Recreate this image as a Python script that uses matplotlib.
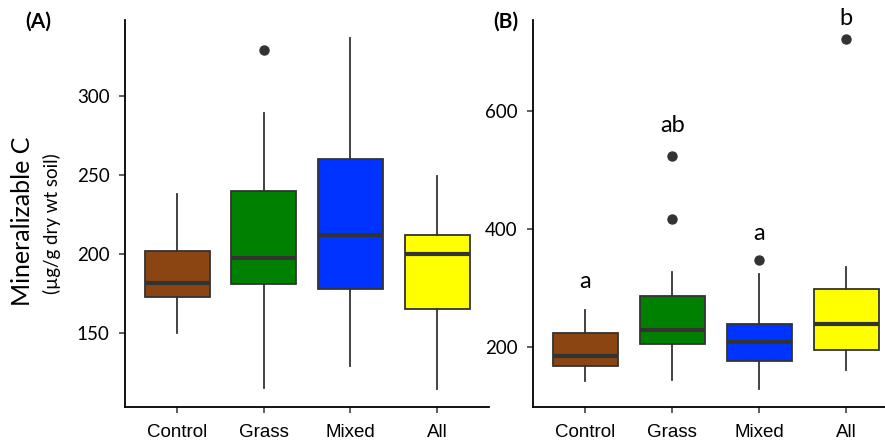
import matplotlib
matplotlib.use("Agg")
import matplotlib.pyplot as plt

plt.rcParams['font.family'] = ['Lato', 'DejaVu Sans']

groups = ["Control", "Grass", "Mixed", "All"]
colors = ["#8B4513", "#008000", "#0033FF", "#FFFF00"]

# panel A: whisker low, Q1, median, Q3, whisker high
a_low = [150.4, 115.1, 129.5, 114.5]
a_q1 = [173.0, 181.4, 178.2, 165.3]
a_med = [181.8, 197.3, 211.9, 200.2]
a_q3 = [202.3, 240.0, 260.5, 212.1]
a_high = [237.9, 289.1, 337.0, 249.4]
a_out = [[], [328.9], [], []]

# panel B
b_low = [141.6, 143.3, 127.5, 160.3]
b_q1 = [167.7, 204.0, 175.7, 194.4]
b_med = [184.7, 227.9, 208.5, 238.1]
b_q3 = [222.8, 286.8, 239.1, 298.2]
b_high = [262.5, 326.0, 323.7, 334.5]
b_out = [[], [524.6, 417.4], [348.0], [722.0]]
b_letters = ["a", "ab", "a", "b"]
b_letter_y = [310, 575, 392, 757]

W, H = 885, 444
fig = plt.figure(figsize=(W / 100, H / 100), dpi=100)
axA = fig.add_axes([125 / W, 37 / H, (489 - 125) / W, 387 / H])
axB = fig.add_axes([533 / W, 37 / H, (885 - 533) / W, 387 / H])


def draw(ax, low, q1, med, q3, high, out):
    stats = []
    for i in range(len(groups)):
        stats.append(dict(whislo=low[i], q1=q1[i], med=med[i], q3=q3[i],
                          whishi=high[i], fliers=out[i]))
    bp = ax.bxp(stats, positions=range(1, 5), widths=0.75, patch_artist=True,
                showcaps=False,
                boxprops=dict(edgecolor="#333333", linewidth=1.3),
                medianprops=dict(color="#333333", linewidth=3),
                whiskerprops=dict(color="#333333", linewidth=1.3),
                flierprops=dict(marker="o", markerfacecolor="#333333",
                                markeredgecolor="#333333", markersize=6.5))
    for patch, c in zip(bp["boxes"], colors):
        patch.set_facecolor(c)
    for s in ["top", "right"]:
        ax.spines[s].set_visible(False)
    for s in ["left", "bottom"]:
        ax.spines[s].set_linewidth(1.3)
    ax.set_xticks(range(1, 5))
    ax.set_xticklabels(groups, fontsize=13.5, family=["Liberation Sans"])
    ax.tick_params(axis="both", length=4, width=1.1, color="#333333",
                   labelcolor="black")
    ax.tick_params(axis="x", pad=8)
    ax.tick_params(axis="y", labelsize=13.5, pad=7)


draw(axA, a_low, a_q1, a_med, a_q3, a_high, a_out)
axA.set_xlim(0.4, 4.6)
axA.set_ylim(103.4, 348.1)
axA.set_yticks([150, 200, 250, 300])

draw(axB, b_low, b_q1, b_med, b_q3, b_high, b_out)
axB.set_xlim(0.4, 0.4 + (885 - 533) / 87)
axB.set_ylim(97.4, 755)
axB.set_yticks([200, 400, 600])
for i, t in enumerate(b_letters):
    axB.text(i + 1, b_letter_y[i], t, ha="center", va="center", fontsize=17,
             clip_on=False)

fig.text(22.7 / W, 1 - 221 / H, "Mineralizable C", rotation=90, ha="center",
         va="center", fontsize=18)
fig.text(52 / W, 1 - 224 / H, "(µg/g dry wt soil)", rotation=90, ha="center",
         va="center", fontsize=13.5)
fig.text(38 / W, 1 - 22 / H, "(A)", ha="center", va="center", fontsize=15,
         fontweight="bold")
fig.text(506 / W, 1 - 22 / H, "(B)", ha="center", va="center", fontsize=15,
         fontweight="bold")

fig.savefig("out.png", dpi=100)
